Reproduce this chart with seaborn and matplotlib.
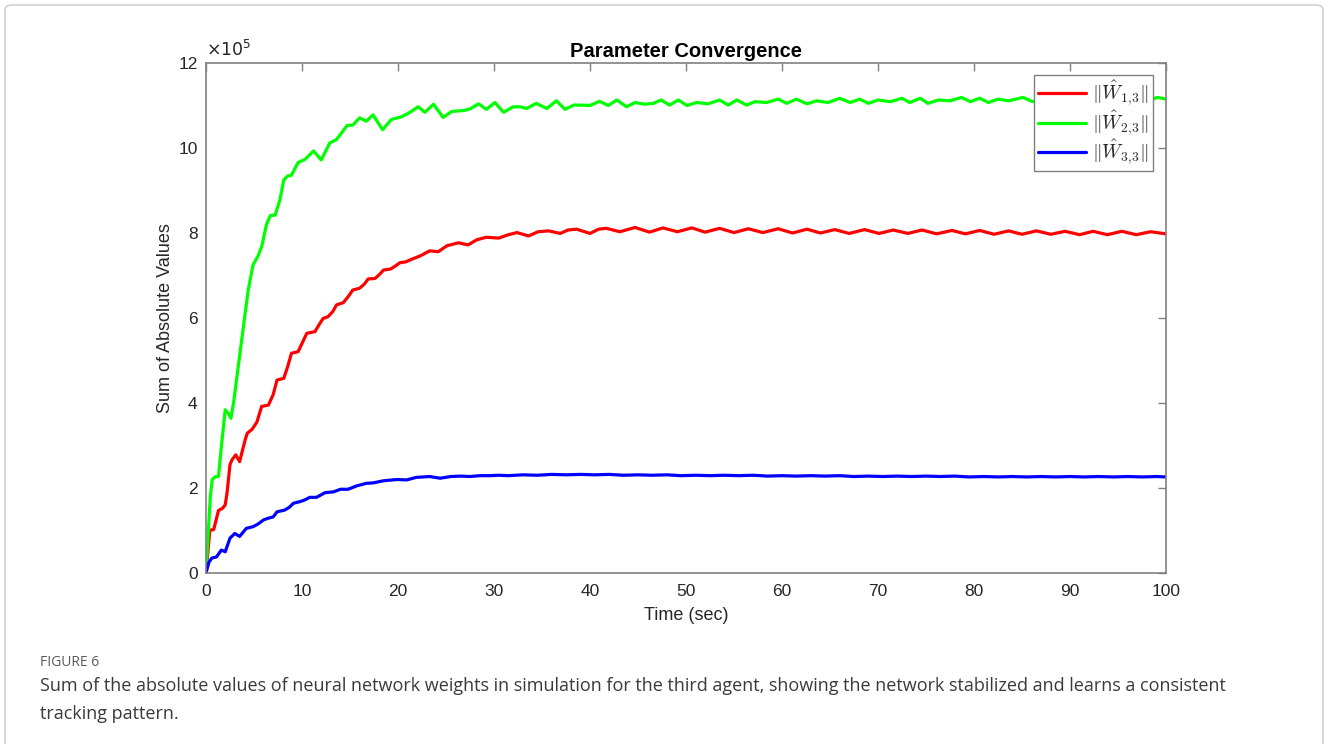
import numpy as np
import pandas as pd
import matplotlib
matplotlib.use("Agg")
import matplotlib.pyplot as plt
from matplotlib.patches import FancyBboxPatch
from matplotlib.font_manager import FontProperties
import seaborn as sns

# Sum of absolute NN weights (units of 1e5) for the third agent
t_w1 = [0, 0.4, 0.8, 1.3, 1.7, 2.0, 2.2, 2.5, 2.7, 3.1,
        3.5, 4.1, 4.3, 4.8, 5.3, 5.8, 6.5, 7.0, 7.4, 8.1,
        8.5, 8.9, 9.6, 10.1, 10.5, 11.35, 11.8, 12.2, 12.7, 13.2,
        13.6, 14.3, 14.8, 15.3, 16.0, 16.5, 16.9, 17.6, 18.1, 18.5,
        19.2, 19.7, 20.2, 20.8, 21.4, 22.3, 23.3, 24.2, 25.1, 26.3,
        27.3, 28.2, 29.2, 30.5, 31.5, 32.4, 33.6, 34.6, 35.7, 36.9,
        37.7, 38.6, 40.0, 40.9, 41.7, 43.1, 44.7, 46.2, 47.6, 49.1,
        50.6, 52.0, 53.5, 55.0, 56.5, 58.0, 59.6, 61.1, 62.6, 64.0,
        65.5, 67.0, 68.6, 70.1, 71.6, 73.1, 74.6, 76.1, 77.7, 79.1,
        80.6, 82.1, 83.6, 85.0, 86.5, 88.0, 89.5, 91.0, 92.4, 93.9,
        95.4, 96.9, 98.4, 100]
w1 = [0, 1.01, 1.02, 1.47, 1.52, 1.60, 1.90, 2.55, 2.66, 2.78,
      2.62, 3.15, 3.29, 3.38, 3.55, 3.92, 3.95, 4.20, 4.54, 4.58,
      4.85, 5.17, 5.21, 5.45, 5.64, 5.68, 5.85, 5.99, 6.03, 6.15,
      6.31, 6.36, 6.50, 6.66, 6.70, 6.80, 6.92, 6.93, 7.03, 7.13,
      7.15, 7.22, 7.30, 7.32, 7.38, 7.46, 7.58, 7.56, 7.70, 7.77,
      7.72, 7.84, 7.90, 7.88, 7.96, 8.01, 7.93, 8.03, 8.05, 7.99,
      8.07, 8.09, 7.99, 8.09, 8.11, 8.03, 8.13, 8.02, 8.12, 8.03,
      8.12, 8.02, 8.11, 8.01, 8.10, 8.01, 8.10, 8.00, 8.09, 8.00,
      8.08, 7.99, 8.08, 7.99, 8.07, 7.99, 8.07, 7.98, 8.06, 7.98,
      8.06, 7.97, 8.05, 7.97, 8.05, 7.97, 8.04, 7.96, 8.04, 7.96,
      8.04, 7.96, 8.03, 7.98]

t_w2 = [0, 0.25, 0.45, 0.65, 1.0, 1.3, 1.6, 2.0, 2.3, 2.6,
        2.9, 3.4, 3.9, 4.4, 4.9, 5.4, 5.8, 6.3, 6.7, 7.2,
        7.7, 8.1, 8.5, 8.9, 9.6, 10.3, 11.2, 12.0, 12.9, 13.6,
        14.7, 15.3, 16.0, 16.7, 17.4, 18.4, 19.3, 20.3, 21.1, 22.1,
        22.8, 23.7, 24.7, 25.6, 26.8, 27.5, 28.4, 29.2, 30.1, 31.0,
        32.0, 32.7, 33.4, 34.4, 35.5, 36.5, 37.4, 38.3, 39.0, 40.0,
        41.0, 41.9, 42.8, 43.8, 44.7, 45.7, 46.6, 47.4, 48.3, 49.2,
        50.1, 51.1, 52.3, 53.5, 54.4, 55.3, 56.3, 57.2, 58.4, 59.6,
        60.5, 61.5, 62.6, 63.6, 64.8, 66.0, 67.1, 68.1, 69.0, 70.0,
        71.3, 72.5, 73.3, 74.4, 75.2, 76.3, 77.5, 78.7, 79.6, 80.6,
        81.5, 82.5, 83.6, 85.1, 86.1, 87.1, 88.1, 89.1, 90.1, 91.1,
        92.1, 93.1, 94.1, 95.1, 96.1, 97.1, 98.1, 99.1, 100]
w2 = [0, 1.00, 1.80, 2.20, 2.27, 2.27, 2.97, 3.84, 3.76, 3.64,
      4.05, 4.93, 5.80, 6.66, 7.25, 7.45, 7.68, 8.20, 8.41, 8.42,
      8.78, 9.25, 9.34, 9.36, 9.66, 9.73, 9.93, 9.72, 10.12, 10.20,
      10.53, 10.54, 10.71, 10.63, 10.78, 10.43, 10.67, 10.73, 10.82, 10.97,
      10.84, 11.03, 10.72, 10.86, 10.88, 10.92, 11.04, 10.91, 11.07, 10.84,
      10.97, 10.97, 10.93, 11.05, 10.93, 11.11, 10.91, 11.01, 11.01, 11.00,
      11.10, 11.00, 11.13, 10.97, 11.07, 11.03, 11.05, 11.13, 11.01, 11.13,
      11.00, 11.07, 11.04, 11.13, 11.01, 11.13, 11.01, 11.09, 11.07, 11.15,
      11.05, 11.15, 11.04, 11.11, 11.07, 11.17, 11.07, 11.15, 11.05, 11.13,
      11.09, 11.17, 11.07, 11.17, 11.05, 11.13, 11.11, 11.19, 11.09, 11.17,
      11.07, 11.15, 11.11, 11.19, 11.09, 11.17, 11.08, 11.16, 11.10, 11.18,
      11.09, 11.17, 11.10, 11.18, 11.09, 11.17, 11.11, 11.19, 11.15]

t_w3 = [0, 0.3, 0.6, 1.1, 1.6, 2.0, 2.5, 3.0, 3.5, 4.2,
        4.9, 5.4, 6.0, 6.5, 7.0, 7.4, 8.2, 8.7, 9.1, 9.8,
        10.3, 10.8, 11.5, 12.0, 12.4, 13.3, 14.0, 14.8, 15.7, 16.7,
        17.4, 18.5, 19.9, 20.9, 21.9, 23.3, 24.4, 25.5, 26.5, 27.5,
        28.5, 29.5, 30.5, 31.5, 33, 34.5, 36, 37.5, 39, 40.5,
        42, 43.5, 45, 46.5, 48, 49.5, 51, 52.5, 54, 55.5,
        57, 58.5, 60, 61.5, 63, 64.5, 66, 67.5, 69, 70.5,
        72, 73.5, 75, 76.5, 78, 79.5, 81, 82.5, 84, 85.5,
        87, 88.5, 90, 91.5, 93, 94.5, 96, 97.5, 99, 100]
w3 = [0, 0.25, 0.35, 0.38, 0.54, 0.50, 0.82, 0.93, 0.86, 1.05,
      1.09, 1.15, 1.25, 1.29, 1.32, 1.44, 1.48, 1.55, 1.64, 1.68,
      1.72, 1.78, 1.78, 1.84, 1.89, 1.91, 1.97, 1.97, 2.05, 2.11,
      2.12, 2.17, 2.20, 2.19, 2.25, 2.27, 2.23, 2.27, 2.28, 2.27,
      2.29, 2.29, 2.30, 2.29, 2.31, 2.30, 2.32, 2.31, 2.32, 2.31,
      2.32, 2.30, 2.31, 2.30, 2.31, 2.29, 2.30, 2.29, 2.30, 2.29,
      2.30, 2.28, 2.29, 2.28, 2.29, 2.28, 2.29, 2.27, 2.28, 2.27,
      2.28, 2.27, 2.28, 2.27, 2.28, 2.26, 2.27, 2.26, 2.27, 2.26,
      2.27, 2.26, 2.27, 2.26, 2.27, 2.26, 2.27, 2.26, 2.27, 2.26]

series_labels = [r"$\|\hat{W}_{1,\!3}\|$", r"$\|\hat{W}_{2,\!3}\|$", r"$\|\hat{W}_{3,\!3}\|$"]
series_colors = ["#ff0000", "#00ff00", "#0000ff"]
y_ticks = [0, 2, 4, 6, 8, 10, 12]
x_ticks = [0, 10, 20, 30, 40, 50, 60, 70, 80, 90, 100]
scale_exp = 5

frames = []
for lab, tt, vv in zip(series_labels, [t_w1, t_w2, t_w3], [w1, w2, w3]):
    frames.append(pd.DataFrame({"time": tt, "value": vv, "series": lab}))
df = pd.concat(frames, ignore_index=True)

sns.set_style("white")
plt.rcParams["font.family"] = ["Liberation Sans", "DejaVu Sans"]

W, H = 1328, 744
fig = plt.figure(figsize=(W / 100, H / 100), dpi=100)

# page frame around the figure panel
frame = FancyBboxPatch((5 / W, -20 / H), 1318 / W, (H + 20 - 5) / H,
                       boxstyle="round,pad=0,rounding_size=0.006",
                       transform=fig.transFigure, fill=False,
                       edgecolor="#c9c9c9", linewidth=1.0)
fig.patches.append(frame)

ax = fig.add_axes([206 / W, 1 - 573 / H, (1166 - 206) / W, (573 - 63) / H])
sns.lineplot(data=df, x="time", y="value", hue="series", palette=series_colors,
             hue_order=series_labels, sort=False, estimator=None,
             linewidth=2.3, ax=ax, legend=False)

ax.set_xlim(0, 100)
ax.set_ylim(0, 12)
ax.set_xticks(x_ticks)
ax.set_yticks(y_ticks)
ax.set_xticklabels([str(v) for v in x_ticks])
ax.set_yticklabels([str(v) for v in y_ticks])
gray = "#808080"
for s in ax.spines.values():
    s.set_visible(True)
    s.set_color(gray)
    s.set_linewidth(1.2)
ax.tick_params(axis="both", which="both", direction="in", length=6, width=1.0,
               color=gray, labelcolor="#262626", labelsize=12.5,
               top=True, right=True)
ax.tick_params(axis="x", pad=8)
ax.tick_params(axis="y", pad=6)

ax.set_xlabel("Time (sec)", fontsize=13, color="#262626", labelpad=6)
ax.set_ylabel("Sum of Absolute Values", fontsize=13, color="#262626", labelpad=3)
ax.set_title("Parameter Convergence", fontsize=14.5, fontweight="bold", color="black", pad=4)
ax.text(0.0, 1.008, r"$\times10^{%d}$" % scale_exp, transform=ax.transAxes,
        ha="left", va="bottom", fontsize=12.5, color="#262626",
        math_fontfamily="dejavusans")

handles = [plt.Line2D([], [], color=c, linewidth=2.3) for c in series_colors]
leg = ax.legend(handles, series_labels, loc="upper right",
                bbox_to_anchor=((1153 - 206) / 960, (573 - 75) / 510),
                prop=FontProperties(size=14, math_fontfamily="cm"),
                frameon=True, fancybox=False, framealpha=1.0, edgecolor=gray,
                handlelength=2.5, handletextpad=0.3, borderpad=0.2,
                labelspacing=0.0, borderaxespad=0)
leg.get_frame().set_linewidth(1.0)

fig.text(40 / W, 1 - 663 / H, "FIGURE 6", fontsize=10, color="#5a5a5a",
         family=["Open Sans", "DejaVu Sans"], va="center", ha="left")
fig.text(40 / W, 1 - 686 / H,
         "Sum of the absolute values of neural network weights in simulation for the third agent, "
         "showing the network stabilized and learns a consistent",
         fontsize=13, color="#3a3a3a", family=["Open Sans", "DejaVu Sans"],
         va="center", ha="left")
fig.text(40 / W, 1 - 714 / H, "tracking pattern.", fontsize=13, color="#3a3a3a",
         family=["Open Sans", "DejaVu Sans"], va="center", ha="left")

fig.savefig("out.png", dpi=100)
